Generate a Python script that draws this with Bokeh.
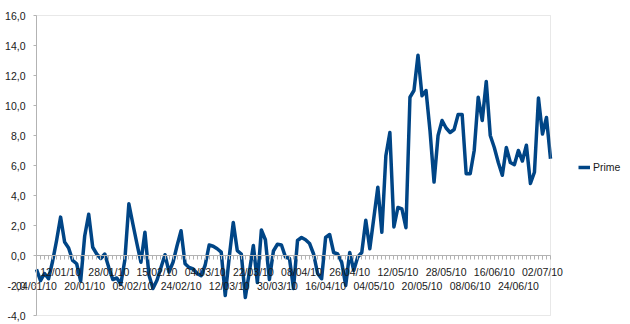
import pandas as pd
from bokeh.plotting import figure
from bokeh.models import (Range1d, LinearAxis, FixedTicker, Legend, LegendItem,
                          ColumnDataSource, BoxAnnotation)
from bokeh.embed import file_html
from bokeh.resources import INLINE

# ---- data ----
bdays = pd.bdate_range("2010-01-04", "2010-07-06")
holidays = ["2010-02-16", "2010-04-02", "2010-06-03"]
dates = [d.strftime("%d/%m/%y") for d in bdays if d.strftime("%Y-%m-%d") not in holidays]

prime = [
    -0.93, -1.67, -1.2, -1.55, -0.4, 1.0, 2.56, 0.9, 0.5, -0.33,
    -0.55, -1.7, 1.3, 2.75, 0.55, 0.1, -0.2, 0.1, -0.8, -1.6,
    -1.5, -1.9, -0.3, 3.45, 2.1, 0.8, -0.45, 1.55, -1.3, -2.2,
    -1.65, -0.8, 0.05, -1.1, -0.45, 0.65, 1.65, -0.55, -0.8, -0.9,
    -1.2, -1.35, -0.65, 0.7, 0.62, 0.45, 0.22, -2.67, -0.1, 2.2,
    0.33, 0.1, -2.8, -1.1, 0.67, -1.8, 1.7, 1.05, -1.6, 0.3,
    0.75, 0.7, -0.1, -0.2, -2.2, 1.0, 1.2, 1.05, 0.8, 0.1,
    -1.2, -1.55, 1.2, 1.4, 0.2, 0.1, -0.45, -2.0, 0.2, -1.0,
    -0.1, 0.2, 2.35, 0.45, 2.5, 4.55, 1.55, 6.65, 8.2, 1.9,
    3.2, 3.1, 1.85, 10.55, 11.0, 13.35, 10.65, 11.0, 8.3, 4.9,
    8.0, 9.0, 8.5, 8.2, 8.4, 9.4, 9.4, 5.45, 5.45, 7.0,
    10.55, 9.0, 11.6, 8.0, 7.2, 6.2, 5.35, 7.2, 6.2, 6.05,
    7.0, 6.3, 7.35, 4.8, 5.55, 10.5, 8.1, 9.2, 6.45,
]
series_name = "Prime"
y_ticks = [-4, -2, 0, 2, 4, 6, 8, 10, 12, 14, 16]
label_step = 6

idx = list(range(len(prime)))
label_idx = idx[::label_step]
upper_idx = label_idx[1::2]
lower_idx = label_idx[0::2]

# ---- layout (pixels) ----
W, H = 630, 324
PL, PR, PT, PB = 36, 550, 15, 315          # plot-area box in page pixels
n = len(prime) - 1
xppu = (PR - PL) / n
yppu = (PB - PT) / (y_ticks[-1] - y_ticks[0])
x_start = -PL / xppu
x_end = n + (W - PR) / xppu
y_end = y_ticks[-1] + PT / yppu
y_start = y_ticks[0] - (H - PB) / yppu

FONT = "Liberation Sans"
TXT = "#1a1a1a"
GRID = "#b3b3b3"
FS = "10.5px"

p = figure(width=W, height=H, output_backend="svg", toolbar_location=None,
           x_range=Range1d(x_start, x_end), y_range=Range1d(y_start, y_end),
           x_axis_type=None, y_axis_type=None,
           min_border_left=0, min_border_right=0, min_border_top=0, min_border_bottom=0)
p.outline_line_color = None
p.background_fill_color = "white"
p.border_fill_color = "white"

# plot-area frame
p.add_layout(BoxAnnotation(left=0, right=n, bottom=y_ticks[0], top=y_ticks[-1],
                           fill_color=None, line_color=GRID, line_width=1))

p.ygrid.ticker = FixedTicker(ticks=y_ticks)
p.ygrid.grid_line_color = GRID
p.ygrid.bounds = (0, n)
p.xgrid.grid_line_color = None

# y axis at x = 0
yax = LinearAxis(ticker=FixedTicker(ticks=y_ticks, minor_ticks=[]), fixed_location=0,
                 bounds=(y_ticks[0], y_ticks[-1]))
yax.major_label_overrides = {v: f"{v:.1f}".replace(".", ",") for v in y_ticks}
yax.axis_line_color = GRID
yax.major_tick_line_color = GRID
yax.major_tick_out = 3
yax.major_tick_in = 0
yax.minor_tick_line_color = None
yax.major_label_standoff = 8
yax.major_label_text_font = FONT
yax.major_label_text_font_size = FS
yax.major_label_text_color = TXT
p.add_layout(yax, "left")

# x axis (upper row of labels + ticks) at y = 0
xax1 = LinearAxis(ticker=FixedTicker(ticks=upper_idx, minor_ticks=idx), fixed_location=0,
                  bounds=(0, n))
xax1.major_label_overrides = {i: dates[i] for i in upper_idx}
xax1.axis_line_color = GRID
xax1.major_tick_line_color = GRID
xax1.minor_tick_line_color = GRID
xax1.major_tick_out = 4
xax1.major_tick_in = 0
xax1.minor_tick_out = 4
xax1.minor_tick_in = 0
xax1.major_label_standoff = 6
xax1.major_label_text_font = FONT
xax1.major_label_text_font_size = FS
xax1.major_label_text_color = TXT
p.add_layout(xax1, "below")

# x axis (lower row of labels)
xax2 = LinearAxis(ticker=FixedTicker(ticks=lower_idx, minor_ticks=[]), fixed_location=0,
                  bounds=(0, n))
xax2.major_label_overrides = {i: dates[i] for i in lower_idx}
xax2.axis_line_color = None
xax2.major_tick_line_color = None
xax2.minor_tick_line_color = None
xax2.major_tick_out = 4
xax2.major_tick_in = 0
xax2.major_label_standoff = 20
xax2.major_label_text_font = FONT
xax2.major_label_text_font_size = FS
xax2.major_label_text_color = TXT
p.add_layout(xax2, "below")

src = ColumnDataSource(dict(x=idx, y=prime))
r = p.line("x", "y", source=src, line_color="#004586", line_width=3.5, line_join="round")

legend = Legend(items=[LegendItem(label=series_name, renderers=[r])],
                location=(578, H - 173), padding=0, margin=0, spacing=0,
                glyph_width=12, glyph_height=12, label_height=12, label_standoff=3,
                label_text_font=FONT, label_text_font_size=FS, label_text_color=TXT,
                background_fill_alpha=0, border_line_color=None)
p.add_layout(legend, "center")

open("out.html", "w").write(file_html(p, INLINE))
